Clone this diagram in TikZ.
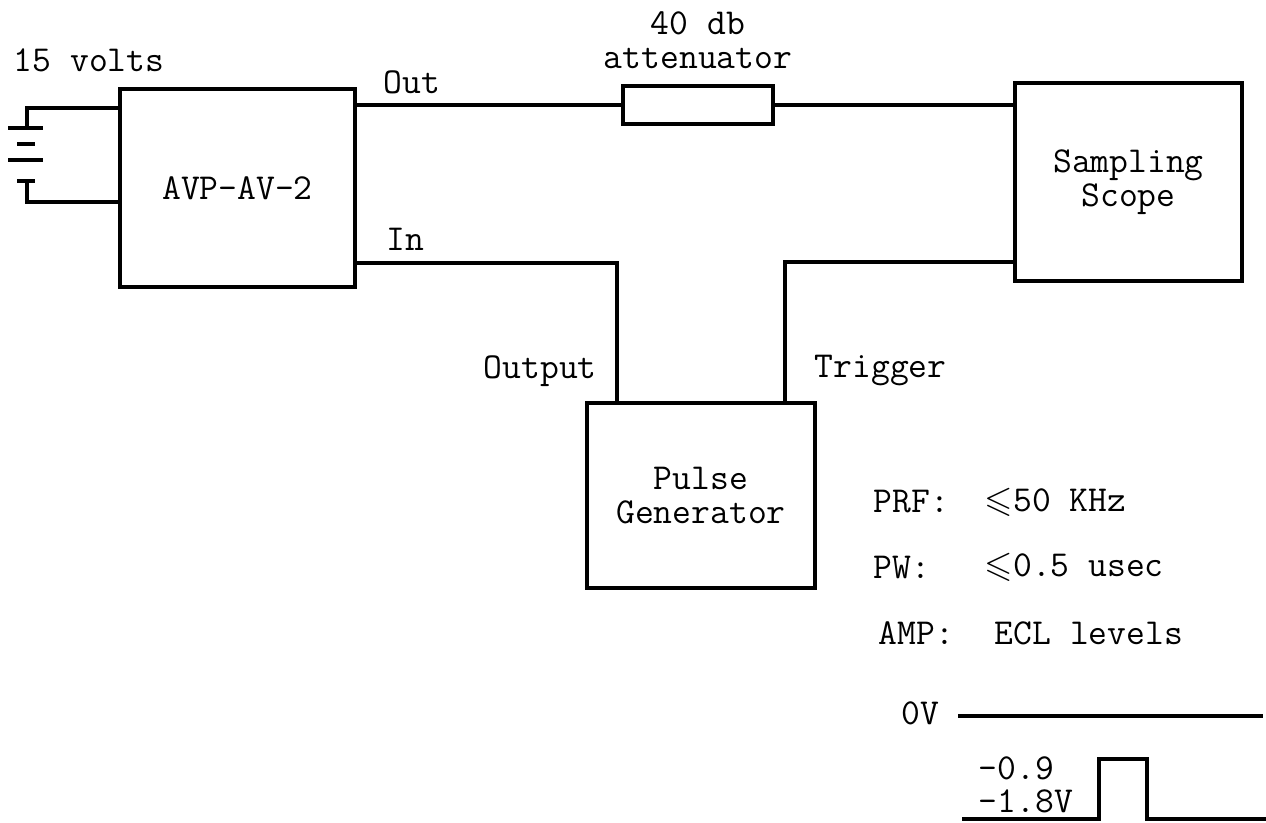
\documentclass[tikz,border=0pt]{standalone}
\usepackage{amssymb}
\usepackage{fontspec}
\usetikzlibrary{positioning}
\begin{document}
\begin{tikzpicture}[
  x = 0.02cm, y = -0.02cm,
  line width = 2pt,
  font = \ttfamily\fontsize{20.8}{19}\selectfont,
  box/.style = {draw, align=center, inner sep=0pt},
  txt/.style = {inner sep=0pt, anchor=west}]
\useasboundingbox (0,0) rectangle (1266,822);
% blocks
\node[box, minimum width=4.70cm, minimum height=3.96cm] (avp) at (237.5,188) {AVP-AV-2};
\node[box, minimum width=3.00cm, minimum height=0.76cm] (att) at (698,105) {};
\node[box, minimum width=4.54cm, minimum height=3.96cm] (scope) at (1128.5,182) {Sampling\\Scope};
\node[box, minimum width=4.56cm, minimum height=3.70cm] (pg) at (701,495.5) {Pulse\\Generator};
\coordinate (pgout) at (617,403);
\coordinate (pgtrig) at (785,403);
% wiring
\draw (avp.east |- att.west) -- (att.west);
\draw (att.east) -- (scope.west |- att.east);
\draw (avp.east |- 0,263) -| (pgout);
\draw (scope.west |- 0,262) -| (pgtrig);
% battery
\coordinate (batp) at (27,128);
\coordinate (batn) at (27,181);
\draw (avp.west |- 0,108) -| (batp);
\draw (batn) |- (avp.west |- 0,202);
\draw (8,128) -- (43,128);
\draw (17,144) -- (35,144);
\draw (8,160) -- (43,160);
\draw (17,181) -- (35,181);
% labels
\node[inner sep=0pt] (volts) at (89,60) {15 volts};
\node[inner sep=0pt, align=center] (attlbl) at (698,40) {40 db\\attenuator};
\node[txt] (outlbl) at (382,82) {Out};
\node[txt] (inlbl) at (385,239) {In};
\node[txt] (outputlbl) at (482,371) {Output};
\node[txt] (triglbl) at (813,371) {Trigger};
% pulse specs
\node[txt] (prf) at (872,502) {PRF:};
\node[txt] (prfval) at (983,502) {$\leqslant$50 KHz};
\node[txt] (pw) at (872,567) {PW:};
\node[txt] (pwval) at (983,567) {$\leqslant$0.5 usec};
\node[txt] (amp) at (877,633) {AMP:};
\node[txt] (ampval) at (993,633) {ECL levels};
% waveform
\node[txt] (zero) at (900,713) {0V};
\node[txt, align=left] (levels) at (977,785) {-0.9\\-1.8V};
\draw (958,716) -- (1263,716);
\draw (962,819) -- (1099,819) -- (1099,759) -- (1147,759) -- (1147,819) -- (1266,819);
\end{tikzpicture}
\end{document}
